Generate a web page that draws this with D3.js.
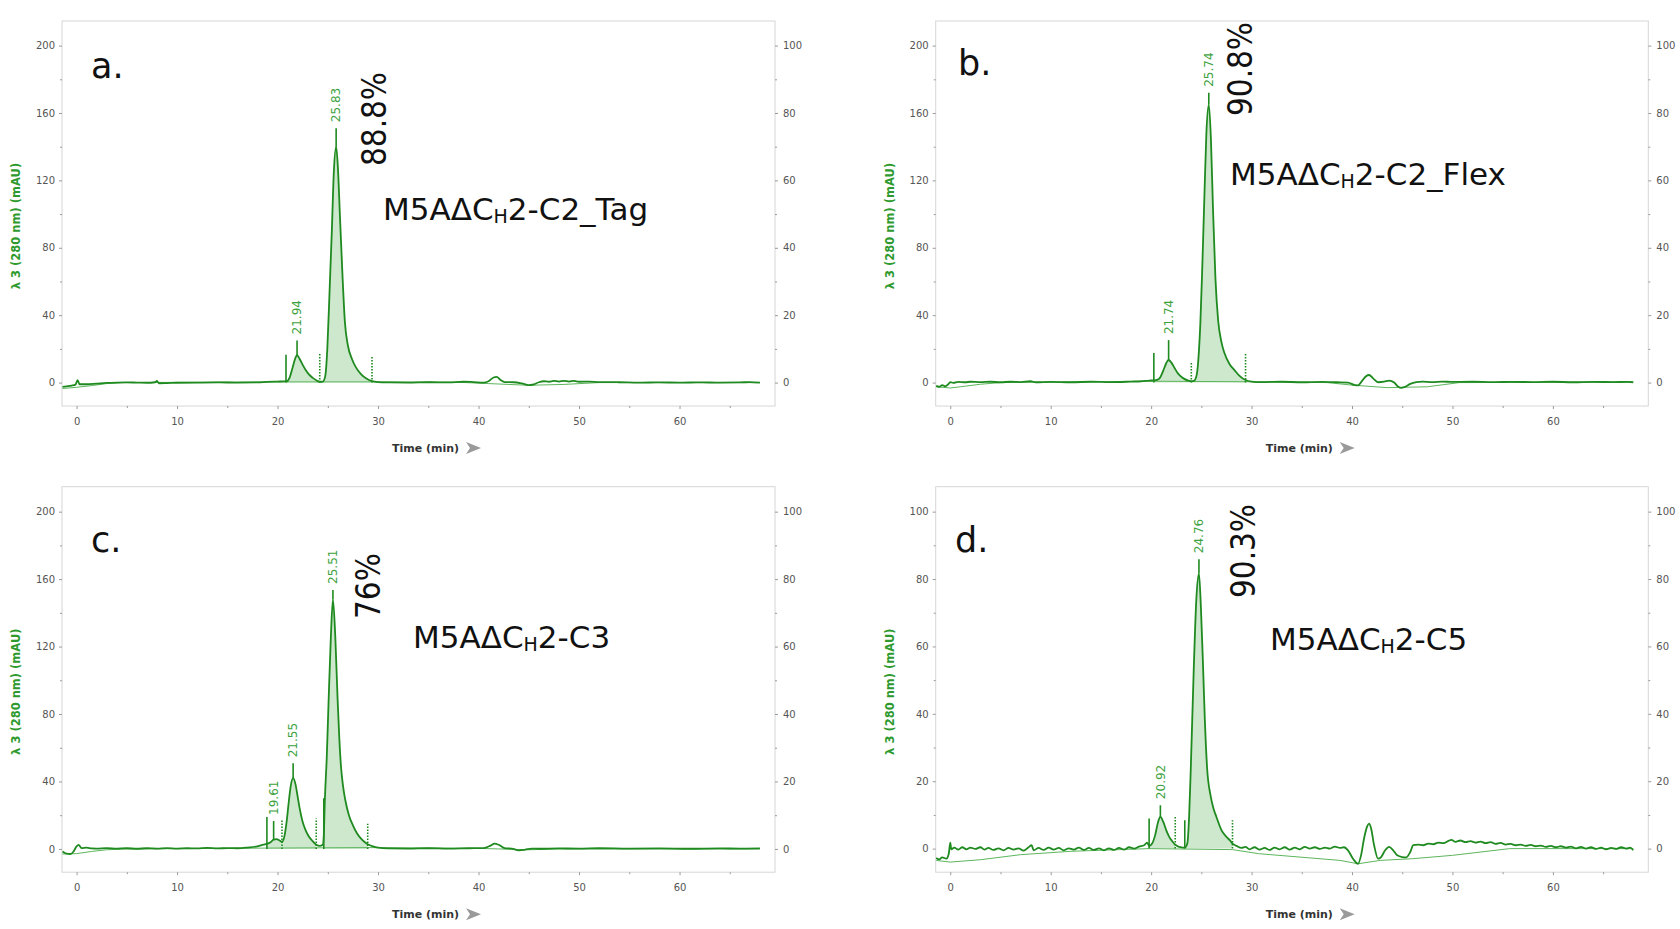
<!DOCTYPE html>
<html>
<head>
<meta charset="utf-8">
<script src="https://cdn.jsdelivr.net/npm/d3@7/dist/d3.min.js"></script>
<style>
body { margin: 0; background: #fff; }
svg text { font-family: "DejaVu Sans", sans-serif; }
</style>
</head>
<body>
<div id="chart"></div>
<script>
// ---- data (time in min, signal in mAU) ----
var panelLetters = ["a.", "b.", "c.", "d."];
var constructs = ["2-C2_Tag", "2-C2_Flex", "2-C3", "2-C5"];
var purities = ["88.8%", "90.8%", "76%", "90.3%"];

var xTicks = [0, 10, 20, 30, 40, 50, 60];
var xMinor = [5, 15, 25, 35, 45, 55, 65];
var yTicks200 = [0, 40, 80, 120, 160, 200];
var yMinor200 = [20, 60, 100, 140, 180];
var yTicks100 = [0, 20, 40, 60, 80, 100];
var yMinor100 = [10, 30, 50, 70, 90];

var traceA = [[-1.4,-2.5],[-1.0,-2.2],[-0.5,-1.8],[-0.1,-1.2],[0.1,1.5],[0.3,-1.0],[1,-1.0],[2,-0.6],[3,-0.2],[4,0],[5,0.1],[6,0],[7,-0.1],[7.8,0.2],[8,1.0],[8.2,-0.4],[9,-0.3],[10,-0.1],[12,0],[14,0.1],[16,0],[18,0.1],[19,0.4],[20,0.6],[20.6,0.7],[20.9,0.8],[21.2,3],[21.5,9],[21.8,15],[21.94,16.3],[22.2,14],[22.5,10.5],[22.8,7.5],[23.1,5],[23.5,2.8],[23.9,1.2],[24.2,0.5],[24.5,0.6],[24.75,4],[24.95,20],[25.15,50],[25.4,90],[25.6,125],[25.83,140],[26.0,128],[26.2,100],[26.45,65],[26.7,36],[27.0,22],[27.4,14],[27.8,9],[28.3,5],[28.8,2.5],[29.4,0.8],[30,0.3],[31,0.1],[33,0],[35,0.2],[37,0.1],[38.5,0.5],[39.5,0.3],[40.5,0],[41,0.8],[41.5,3],[41.8,3.4],[42.2,1.5],[42.6,0.3],[43.5,0.2],[44.3,-0.5],[45.0,-1.5],[45.5,-1.0],[46,0.2],[46.5,0.8],[47,0.5],[47.5,1.0],[48,0.6],[48.5,1.0],[49,0.6],[49.5,1.0],[50,0.5],[51,0.6],[52,0.3],[54,0.2],[56,0],[58,0.1],[60,0],[62,0.1],[64,0],[66,0.1],[67,0.3],[68,0]];
var traceB = [[-1.4,-2.0],[-1.1,-2.5],[-0.8,-1.5],[-0.5,-2.2],[-0.2,-1.0],[0,0.3],[0.3,-0.2],[0.8,0.4],[1.5,0.2],[2,0.5],[3,0.3],[4,0.5],[5,0.2],[6,0.5],[7,0.3],[8,0.8],[8.5,0.2],[10,0.4],[12,0.2],[14,0.5],[16,0.3],[18,0.6],[19,0.8],[19.8,1.2],[20.27,1.3],[20.6,1.6],[20.9,3],[21.2,7],[21.5,11.5],[21.74,13.4],[22.0,12],[22.3,9],[22.6,6],[22.9,4],[23.3,2.2],[23.7,1.2],[24.0,0.8],[24.3,1.2],[24.55,5],[24.75,18],[24.9,35],[25.1,70],[25.3,110],[25.5,148],[25.74,165],[25.95,145],[26.15,105],[26.4,62],[26.67,37],[27.0,24],[27.3,17.5],[27.8,11],[28.3,7.4],[28.8,4],[29.4,1.5],[30,0.6],[31,0.3],[33,0.5],[35,0.2],[37,0.4],[38.5,0.2],[39.6,0],[40.3,-1.5],[40.6,-1.6],[41.0,1.0],[41.4,3.8],[41.7,4.5],[42.1,2.5],[42.6,0.2],[43.2,0.5],[43.7,1.2],[44.2,0],[44.6,-2.5],[44.9,-3.2],[45.3,-2.5],[45.8,-0.8],[46.4,0.3],[47,0.6],[48,0.3],[49,0.6],[50,0.4],[52,0.5],[54,0.3],[56,0.4],[58,0.3],[60,0.5],[62,0.2],[64,0.4],[66,0.3],[67.5,0.4],[68,0.2]];
var traceC = [[-1.4,-1.5],[-1.0,-2.8],[-0.6,-3.0],[-0.3,-1.5],[0,1.5],[0.2,2.4],[0.5,0.5],[1,0.8],[1.5,0.3],[2,0.2],[3,0.5],[4,0.2],[5,0.4],[6,0.1],[7,0.4],[8,0.2],[9,0.5],[10,0.2],[11,0.4],[12,0.3],[13,0.6],[14,0.3],[15,0.5],[16,0.4],[17,0.8],[18,1.5],[18.6,2.5],[18.94,3],[19.3,4],[19.61,5.5],[19.9,5.8],[20.2,5.0],[20.44,4.2],[20.7,8],[20.9,16],[21.1,27],[21.3,37],[21.55,42],[21.8,38],[22.0,31],[22.2,24],[22.5,16],[22.8,11],[23.1,7.5],[23.43,5],[23.85,2.5],[24.2,1.8],[24.5,2.5],[24.6,8],[24.7,28],[24.9,55],[25.08,88],[25.3,125],[25.51,148],[25.75,125],[25.98,88],[26.15,65],[26.31,49],[26.5,38],[26.74,29],[27.1,20],[27.5,14],[27.9,9.3],[28.4,5.5],[28.97,2.8],[29.5,1.5],[30,0.8],[31,0.3],[33,0.2],[35,0.4],[37,0.2],[39,0.4],[40.5,0.5],[41.2,2.0],[41.6,3.2],[42.0,2.5],[42.6,0.5],[43.3,0.2],[44.0,-0.8],[44.6,-0.5],[45.3,0.2],[46,0.1],[48,0.3],[50,0.2],[52,0.4],[55,0.2],[58,0.3],[61,0.1],[64,0.3],[66,0.2],[68,0.3]];
var traceD = [[-1.4,-2.8],[-1.1,-3.2],[-0.8,-2.6],[-0.4,-3.0],[-0.15,-1.5],[0,1.8],[0.1,-0.2],[0.4,0.3],[0.8,-0.3],[1.2,0.4],[1.6,-0.2],[2.0,0.3],[2.5,-0.1],[3.0,0.4],[3.4,-0.3],[3.8,0.2],[4.3,-0.4],[4.8,0.1],[5.3,-0.5],[5.8,0.2],[6.3,-0.3],[6.8,0.1],[7.3,-0.6],[7.8,0.4],[8.1,1.0],[8.3,-0.5],[8.8,0.2],[9.3,-0.4],[9.8,0.3],[10.3,-0.3],[10.8,0.2],[11.3,-0.5],[11.8,0.1],[12.3,-0.3],[12.8,0.3],[13.3,-0.4],[13.8,0.2],[14.3,-0.4],[14.8,0.1],[15.3,-0.5],[15.8,0.1],[16.3,-0.4],[16.8,0.2],[17.3,-0.3],[17.8,0.4],[18.3,0.0],[18.8,0.6],[19.3,1.0],[19.6,1.8],[19.8,0.8],[20.1,1.5],[20.4,4],[20.7,8],[20.92,9.4],[21.2,8],[21.5,5.5],[21.8,3.5],[22.1,2.2],[22.4,1.2],[22.7,0.6],[23.0,0.4],[23.35,0.3],[23.6,1.5],[23.78,9.4],[23.95,24],[24.25,54],[24.5,74],[24.76,81.7],[24.95,72],[25.17,54],[25.35,38],[25.57,24],[25.9,16],[26.2,12],[26.5,9.4],[27.0,5.5],[27.5,3.5],[27.83,2.5],[28.1,1.5],[28.5,0.8],[29,0.2],[29.4,0.5],[29.8,-0.2],[30.3,0.4],[30.8,-0.3],[31.3,0.2],[31.8,-0.4],[32.3,0.3],[32.8,-0.2],[33.3,0.4],[33.8,-0.3],[34.3,0.3],[34.8,-0.2],[35.3,0.5],[35.8,0.0],[36.3,0.4],[36.8,-0.1],[37.3,0.3],[37.8,0.0],[38.3,0.6],[38.8,0.2],[39.2,0.4],[39.6,-0.5],[40.1,-3.0],[40.6,-4.5],[40.9,-2],[41.2,3],[41.5,6.5],[41.7,7.4],[41.9,6],[42.2,1],[42.6,-3],[42.9,-2.5],[43.3,-0.5],[43.7,0.5],[44.1,-0.5],[44.5,-2.0],[45.0,-2.5],[45.4,-2.6],[45.8,-1.0],[46.1,1.0],[46.6,1.2],[47.1,1.0],[47.6,1.5],[48.1,1.3],[48.6,1.8],[49.1,1.6],[49.6,2.3],[49.9,2.6],[50.3,2.0],[50.8,2.4],[51.3,1.9],[51.8,2.2],[52.3,1.8],[52.8,2.1],[53.3,1.6],[53.8,1.9],[54.3,1.4],[54.8,1.7],[55.3,1.2],[55.8,1.4],[56.3,1.0],[56.8,1.2],[57.3,0.8],[57.8,1.1],[58.3,0.7],[58.8,0.9],[59.3,0.5],[59.8,0.8],[60.3,0.4],[60.8,0.7],[61.3,0.3],[61.8,0.6],[62.3,0.1],[62.8,0.5],[63.3,0.0],[63.8,0.4],[64.3,-0.1],[64.8,0.3],[65.3,-0.2],[65.8,0.2],[66.3,-0.1],[66.8,0.4],[67.3,0.0],[67.7,0.3],[68,-0.5]];

// thin integration baselines
var baseA = [[-1.4,-3.5],[0,-2.8],[1.5,-1.8],[3,-0.6],[4.5,0],[20.8,0.4],[29.4,0.4],[38,0.2],[41,-0.6],[45,-1.6],[48.5,-1.1],[52,0],[68,0]];
var baseB = [[-1.4,-2.5],[0,-3.2],[1,-2.5],[3,-1],[5,0],[20.27,0.8],[29.4,0.5],[37.5,0],[40,-1.5],[43.5,-3],[47.5,-2.5],[50.7,0],[68,0.3]];
var baseC = [[-1.4,-3],[0,-2.8],[1.5,-1.5],[3,-0.5],[5,0],[18.94,0.5],[28.97,0.8],[40,0.3],[42,0],[45,-0.5],[48,0],[68,0]];
var baseD = [[-1.4,-3.5],[0,-4.0],[3,-3.3],[7,-1.8],[12,-0.8],[19.8,0],[28.1,-0.3],[30.7,-1.5],[38.8,-3.5],[40.6,-4.5],[42.8,-3.5],[46,-3],[50,-2],[55.7,0],[68,0]];

// integrated peak windows [start, end]
var fillsA = [[20.84, 24.2], [24.2, 29.4]];
var fillsB = [[20.27, 24.0], [24.0, 29.4]];
var fillsC = [[18.94, 20.44], [20.44, 23.85], [24.6, 28.97]];
var fillsD = [[19.8, 22.4], [23.35, 28.1]];

// peak start / end marks: [time, height, kind]
var boundsA = [[20.84, 16.5, "start"], [24.2, 17, "end"], [29.4, 16, "end"]];
var boundsB = [[20.27, 17.5, "start"], [24.0, 11.6, "end"], [29.4, 17.5, "end"]];
var boundsC = [[18.94, 19, "start"], [20.44, 17, "end"], [23.85, 18, "end"], [24.6, 30, "start"], [28.97, 15, "end"]];
var boundsD = [[19.8, 8.9, "start"], [22.4, 9.4, "end"], [23.35, 8.4, "start"], [28.1, 8.4, "end"]];

// labelled peaks: [retention time, apex, marker top]
var peaksA = [[21.94, 16.3, 25], [25.83, 140, 151]];
var peaksB = [[21.74, 13.4, 25.2], [25.74, 165, 172]];
var peaksC = [[19.61, 5.5, 16.6], [21.55, 42, 50.8], [25.51, 148, 153.6]];
var peaksD = [[20.92, 9.4, 12.9], [24.76, 81.7, 85.9]];

var traces = [traceA, traceB, traceC, traceD];
var bases = [baseA, baseB, baseC, baseD];
var fills = [fillsA, fillsB, fillsC, fillsD];
var bounds = [boundsA, boundsB, boundsC, boundsD];
var peaks = [peaksA, peaksB, peaksC, peaksD];

// ---- layout ----
var width = 1680, height = 929;
var lineColor = "#1f8a1f", thinColor = "#5db55d", fillColor = "#c4e4c4", labelColor = "#3da23d";

var panels = [
	{x: 62, y: 21, w: 713, h: 385, yDom: [-13.9, 214.6], leftMax: 200, letter: [91, 78], name: [383, 220], pct: [386, 166]},
	{x: 935.7, y: 21, w: 712.6, h: 385, yDom: [-13.9, 214.6], leftMax: 200, letter: [958, 75], name: [1230, 185], pct: [1252, 116]},
	{x: 62, y: 486.7, w: 713, h: 385.5, yDom: [-13.8, 214.8], leftMax: 200, letter: [91, 552], name: [413, 648], pct: [380, 619]},
	{x: 935.7, y: 486.7, w: 712.6, h: 385.5, yDom: [-7.0, 107.4], leftMax: 100, letter: [955, 552], name: [1270, 650], pct: [1255, 598]}
];

var svg = d3.select("#chart").append("svg")
	.attr("width", width)
	.attr("height", height);

svg.append("rect").attr("width", width).attr("height", height).attr("fill", "#fff");

function styleAxis(g) {
	g.select(".domain").remove();
	g.selectAll(".tick line").attr("stroke", "#9a9a9a");
	g.selectAll(".tick text").attr("fill", "#555").attr("font-size", 10)
		.attr("font-family", "DejaVu Sans, sans-serif");
}

panels.forEach(function(P, i) {
	var g = svg.append("g");
	var x = d3.scaleLinear().domain([-1.45, 69.5]).range([P.x, P.x + P.w]);
	var y = d3.scaleLinear().domain(P.yDom).range([P.y + P.h, P.y]);
	var k = P.leftMax == 200 ? 2 : 1;
	var yR = d3.scaleLinear().domain([P.yDom[0] / k, P.yDom[1] / k]).range([P.y + P.h, P.y]);
	var bottom = P.y + P.h;

	// frame
	g.append("rect")
		.attr("x", P.x).attr("y", P.y).attr("width", P.w).attr("height", P.h)
		.attr("fill", "none").attr("stroke", "#d6d6d6");

	var leftMajor = P.leftMax == 200 ? yTicks200 : yTicks100;
	var leftMinor = P.leftMax == 200 ? yMinor200 : yMinor100;

	g.append("g").attr("transform", "translate(" + P.x + ",0)")
		.call(d3.axisLeft(y).tickValues(leftMajor).tickSize(3).tickPadding(4))
		.call(styleAxis);
	g.append("g").attr("transform", "translate(" + P.x + ",0)")
		.call(d3.axisLeft(y).tickValues(leftMinor).tickSize(2).tickFormat(""))
		.call(styleAxis);
	g.append("g").attr("transform", "translate(" + (P.x + P.w) + ",0)")
		.call(d3.axisRight(yR).tickValues(yTicks100).tickSize(3).tickPadding(5))
		.call(styleAxis);
	g.append("g").attr("transform", "translate(" + (P.x + P.w) + ",0)")
		.call(d3.axisRight(yR).tickValues(yMinor100).tickSize(2).tickFormat(""))
		.call(styleAxis);
	g.append("g").attr("transform", "translate(0," + bottom + ")")
		.call(d3.axisBottom(x).tickValues(xTicks).tickSize(3).tickPadding(9))
		.call(styleAxis);
	g.append("g").attr("transform", "translate(0," + bottom + ")")
		.call(d3.axisBottom(x).tickValues(xMinor).tickSize(2).tickFormat(""))
		.call(styleAxis);

	// axis titles
	g.append("text")
		.attr("transform", "translate(" + (P.x - 46) + "," + (P.y + 205) + ") rotate(-90)")
		.attr("text-anchor", "middle").attr("dy", "0.35em")
		.attr("font-size", 11.5).attr("font-weight", "bold").attr("fill", "#2e9a2e")
		.text("λ 3 (280 nm) (mAU)");
	g.append("text")
		.attr("x", P.x + 330).attr("y", bottom + 46)
		.attr("font-size", 11).attr("font-weight", "bold").attr("fill", "#333")
		.text("Time (min)");
	var ax = P.x + 404, ay = bottom + 42;
	g.append("path")
		.attr("d", "M" + ax + "," + (ay - 6) + "L" + (ax + 15) + "," + ay + "L" + ax + "," + (ay + 6) + "L" + (ax + 4) + "," + ay + "Z")
		.attr("fill", "#9a9a9a");

	// plot contents, clipped to the frame
	var clipId = "clip" + i;
	svg.append("clipPath").attr("id", clipId).append("rect")
		.attr("x", P.x).attr("y", P.y).attr("width", P.w).attr("height", P.h);
	var plot = g.append("g").attr("clip-path", "url(#" + clipId + ")");

	var line = d3.line().x(function(d) { return x(d[0]); }).y(function(d) { return y(d[1]); })
		.curve(d3.curveMonotoneX);
	var area = d3.area().x(function(d) { return x(d[0]); })
		.y0(y(0)).y1(function(d) { return y(d[1]); })
		.curve(d3.curveMonotoneX);

	fills[i].forEach(function(f) {
		var seg = traces[i].filter(function(d) { return d[0] >= f[0] && d[0] <= f[1]; });
		plot.append("path").attr("d", area(seg)).attr("fill", fillColor).attr("opacity", 0.85);
	});

	plot.append("path").attr("d", line.curve(d3.curveLinear)(bases[i]))
		.attr("fill", "none").attr("stroke", thinColor).attr("stroke-width", 1);
	line.curve(d3.curveMonotoneX);

	plot.append("path").attr("d", line(traces[i]))
		.attr("fill", "none").attr("stroke", lineColor).attr("stroke-width", 1.8)
		.attr("stroke-linejoin", "round");

	bounds[i].forEach(function(b) {
		plot.append("line")
			.attr("x1", x(b[0])).attr("x2", x(b[0]))
			.attr("y1", y(0)).attr("y2", y(b[1]))
			.attr("stroke", lineColor).attr("stroke-width", 1.6)
			.attr("stroke-dasharray", b[2] == "end" ? "1.5,1.5" : null);
	});

	peaks[i].forEach(function(p) {
		plot.append("line")
			.attr("x1", x(p[0])).attr("x2", x(p[0]))
			.attr("y1", y(p[1])).attr("y2", y(p[2]))
			.attr("stroke", lineColor).attr("stroke-width", 1.6);
		plot.append("text")
			.attr("transform", "translate(" + x(p[0]) + "," + (y(p[2]) - 6) + ") rotate(-90)")
			.attr("dy", "0.35em").attr("font-size", 12).attr("fill", labelColor)
			.text(d3.format(".2f")(p[0]));
	});

	// annotations
	g.append("text")
		.attr("x", P.letter[0]).attr("y", P.letter[1])
		.attr("font-family", "Lato, sans-serif").attr("font-size", 35).attr("fill", "#111")
		.text(panelLetters[i]);

	var name = g.append("text")
		.attr("x", P.name[0]).attr("y", P.name[1])
		.attr("font-family", "Lato, sans-serif").attr("font-size", 31).attr("fill", "#111");
	name.append("tspan").text("M5AΔC");
	name.append("tspan").attr("font-size", 19).attr("dy", 3).text("H");
	name.append("tspan").attr("dy", -3).text(constructs[i]);

	g.append("text")
		.attr("transform", "translate(" + P.pct[0] + "," + P.pct[1] + ") rotate(-90) scale(0.87,1)")
		.attr("font-family", "Lato, sans-serif").attr("font-size", 34).attr("fill", "#111")
		.text(purities[i]);
});
</script>
</body>
</html>
